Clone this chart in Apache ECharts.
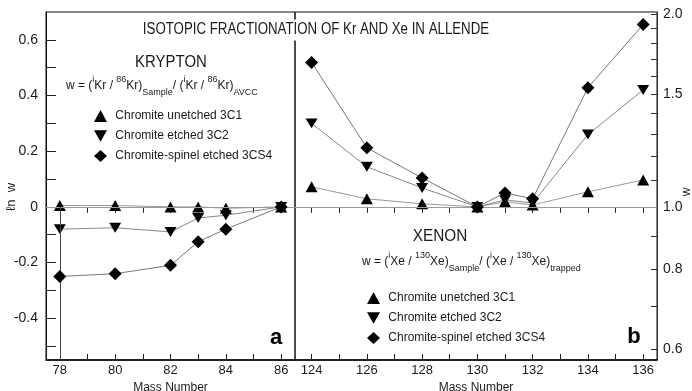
<!DOCTYPE html>
<html><head><meta charset="utf-8">
<script src="https://cdn.jsdelivr.net/npm/echarts@6/dist/echarts.min.js"></script>
<style>html,body{margin:0;padding:0;background:#fff}#c{width:692px;height:391px}</style>
</head><body><div id="c"></div><script>
const FONT = "'Liberation Sans', Arial, sans-serif";
// ---- data ----
const seriesNames = ['Chromite unetched 3C1', 'Chromite etched 3C2', 'Chromite-spinel etched 3CS4'];
const krMass = [78, 80, 82, 83, 84, 86];
const krUnetched = [0.005, 0.005, 0.0, 0.0, -0.005, 0];
const krEtched = [-0.08, -0.075, -0.09, -0.04, -0.03, 0];
const krSpinel = [-0.25, -0.24, -0.21, -0.125, -0.08, 0];
const xeMass = [124, 126, 128, 130, 131, 132, 134, 136];
const xeUnetched = [0.072, 0.029, 0.011, 0, 0.018, 0.007, 0.054, 0.097];
const xeEtched = [0.30, 0.144, 0.068, 0, 0.025, 0.014, 0.26, 0.42];
const xeSpinel = [0.519, 0.212, 0.104, 0, 0.05, 0.029, 0.428, 0.655];
const lnLabels = [-0.4, -0.2, 0, 0.2, 0.4, 0.6];
const lnTicks = [-0.5, -0.4, -0.3, -0.2, -0.1, 0, 0.1, 0.2, 0.3, 0.4, 0.5, 0.6];
const wLabels = [0.6, 0.8, 1.0, 1.5, 2.0];
const wTicks = [0.6, 0.7, 0.8, 0.9, 1.0, 1.1, 1.2, 1.3, 1.4, 1.5, 1.6, 1.7, 1.8, 1.9, 2.0];
const krTickLabels = [78, 80, 82, 84, 86];
const krTicks = [78, 79, 80, 81, 82, 83, 84, 85, 86];
const xeTickLabels = [124, 126, 128, 130, 132, 134, 136];
const xeTicks = [124, 125, 126, 127, 128, 129, 130, 131, 132, 133, 134, 135, 136];
// ---------------
const LNMIN = -0.55, LNMAX = 0.7;
const DOWN = 'path://M0,0L10,0L5,9Z';
const symbols = ['triangle', DOWN, 'diamond'];
const sizes = [[12, 11], [12, 11], [13, 13]];
const lineCols = ['#999', '#888', '#777'];
const ink = '#1a1a1a';

function mk(name, xs, ys, gi, k) {
  return {
    name, type: 'line', xAxisIndex: gi, yAxisIndex: gi,
    data: xs.map((x, i) => [x, ys[i]]),
    symbol: symbols[k], symbolSize: sizes[k], symbolKeepAspect: true,
    itemStyle: { color: '#000' },
    lineStyle: { color: lineCols[k], width: 1 },
    z: 3 + k, animation: false
  };
}
const series = [
  mk(seriesNames[0], krMass, krUnetched, 0, 0),
  mk(seriesNames[1], krMass, krEtched, 0, 1),
  mk(seriesNames[2], krMass, krSpinel, 0, 2),
  mk(seriesNames[0], xeMass, xeUnetched, 1, 0),
  mk(seriesNames[1], xeMass, xeEtched, 1, 1),
  mk(seriesNames[2], xeMass, xeSpinel, 1, 2)
];
series[0].markLine = { silent: true, symbol: 'none', animation: false, label: { show: false },
  lineStyle: { color: '#999', width: 1, type: 'solid' }, data: [{ yAxis: 0 }] };
series[2].markLine = { silent: true, symbol: 'none', animation: false, label: { show: false },
  lineStyle: { color: '#444', width: 1, type: 'solid' },
  data: [[{ coord: [krMass[0], 0] }, { coord: [krMass[0], LNMIN] }]] };
series[3].markLine = { silent: true, symbol: 'none', animation: false, label: { show: false },
  lineStyle: { color: '#999', width: 1, type: 'solid' }, data: [{ yAxis: 0 }] };

function xBottom(gi, min, max, ticks, labels) {
  return {
    type: 'value', gridIndex: gi, min, max, position: 'bottom',
    name: 'Mass Number', nameLocation: 'middle', nameGap: 20,
    nameTextStyle: { color: ink, fontFamily: FONT, fontSize: 12 },
    axisLine: { show: true, onZero: false, lineStyle: { color: '#000', width: 1.5 } },
    axisTick: { show: true, inside: true, length: 6, customValues: ticks, lineStyle: { color: '#222' } },
    axisLabel: { color: ink, fontFamily: FONT, fontSize: 13, margin: 4, customValues: labels, formatter: v => String(Math.round(v)) },
    splitLine: { show: false }
  };
}
function xTop(gi, min, max, ticks) {
  return {
    type: 'value', gridIndex: gi, min, max, position: 'top',
    axisLine: { show: false }, axisLabel: { show: false },
    axisTick: { show: true, inside: true, length: 6, customValues: ticks, lineStyle: { color: '#222' } },
    splitLine: { show: false }
  };
}
const rich = {
  m: { fontSize: 12, fontFamily: FONT, fill: ink, lineHeight: 22 },
  s: { fontSize: 9, fontFamily: FONT, fill: ink, lineHeight: 10, verticalAlign: 'top' },
  b: { fontSize: 9, fontFamily: FONT, fill: ink, lineHeight: 10, verticalAlign: 'bottom' }
};
const option = {
  backgroundColor: '#fff',
  animation: false,
  grid: [
    { left: 46, top: 12, width: 249, height: 348, outerBoundsMode: 'none', containLabel: false, show: true, borderColor: '#111', borderWidth: 1, backgroundColor: 'transparent' },
    { left: 295, top: 12, width: 362, height: 348, outerBoundsMode: 'none', containLabel: false, show: true, borderColor: '#111', borderWidth: 1, backgroundColor: 'transparent' }
  ],
  xAxis: [
    xBottom(0, 77.5, 86.5, krTicks, krTickLabels),
    xBottom(1, 123.4, 136.5, xeTicks, xeTickLabels),
    xTop(0, 77.5, 86.5, krTicks),
    xTop(1, 123.4, 136.5, xeTicks)
  ],
  yAxis: [
    { type: 'value', gridIndex: 0, min: LNMIN, max: LNMAX, position: 'left',
      axisLine: { show: true, lineStyle: { color: '#111' } },
      axisTick: { show: true, inside: true, length: 10, customValues: lnTicks, lineStyle: { color: '#222' } },
      axisLabel: { color: ink, fontFamily: FONT, fontSize: 14, margin: 8, customValues: lnLabels, formatter: v => Math.abs(v) < 1e-9 ? '0' : v.toFixed(1) },
      splitLine: { show: false } },
    { type: 'value', gridIndex: 1, min: LNMIN, max: LNMAX, position: 'right',
      axisLine: { show: true, lineStyle: { color: '#333' } },
      axisTick: { show: true, inside: true, length: 6, customValues: wTicks.map(Math.log), lineStyle: { color: '#333' } },
      axisLabel: { color: ink, fontFamily: FONT, fontSize: 14, margin: 6, customValues: wLabels.map(Math.log), formatter: v => Math.exp(v).toFixed(1) },
      splitLine: { show: false } }
  ],
  legend: [
    { left: 94, top: 110, orient: 'vertical', itemGap: 8, itemWidth: 13, itemHeight: 12, padding: 0,
      formatter: n => ' ' + n,
      textStyle: { color: ink, fontFamily: FONT, fontSize: 12 }, selectedMode: false,
      data: seriesNames.map((n, k) => ({ name: n, icon: symbols[k] })) },
    { left: 367, top: 292, orient: 'vertical', itemGap: 8, itemWidth: 13, itemHeight: 12, padding: 0,
      formatter: n => ' ' + n,
      textStyle: { color: ink, fontFamily: FONT, fontSize: 12 }, selectedMode: false,
      data: seriesNames.map((n, k) => ({ name: n, icon: symbols[k] })) }
  ],
  graphic: [
    { type: 'text', x: 316, y: 30, z: 100, scaleX: 0.83, style: { text: 'ISOTOPIC FRACTIONATION OF Kr AND Xe IN ALLENDE', fill: ink, font: '16px ' + FONT, align: 'center', verticalAlign: 'middle', backgroundColor: '#fff', padding: [1, 2, 4, 2] } },
    { type: 'text', x: 171, y: 62, scaleX: 0.88, style: { text: 'KRYPTON', fill: ink, font: '17px ' + FONT, align: 'center', verticalAlign: 'middle' } },
    { type: 'text', x: 440, y: 236, scaleX: 0.9, style: { text: 'XENON', fill: ink, font: '17px ' + FONT, align: 'center', verticalAlign: 'middle' } },
    { type: 'text', x: 66, y: 86, style: {
      text: '{m|w = (}{s|i}{m|Kr / }{s|86}{m|Kr)}{b|Sample}{m|/ (}{s|i}{m|Kr / }{s|86}{m|Kr)}{b|AVCC}',
      verticalAlign: 'middle', rich } },
    { type: 'text', x: 362, y: 262, style: {
      text: '{m|w = (}{s|i}{m|Xe / }{s|130}{m|Xe)}{b|Sample}{m|/ (}{s|i}{m|Xe / }{s|130}{m|Xe)}{b|trapped}',
      verticalAlign: 'middle', rich } },
    { type: 'text', x: 276, y: 338, style: { text: 'a', fill: '#000', font: 'bold 22px ' + FONT, align: 'center', verticalAlign: 'middle' } },
    { type: 'text', x: 634, y: 337, style: { text: 'b', fill: '#000', font: 'bold 22px ' + FONT, align: 'center', verticalAlign: 'middle' } },
    { type: 'text', x: 11, y: 197, rotation: Math.PI / 2, style: { text: 'ℓn  w', fill: ink, font: '13px ' + FONT, align: 'center', verticalAlign: 'middle' } },
    { type: 'text', x: 687, y: 192, rotation: Math.PI / 2, style: { text: 'w', fill: ink, font: '12px ' + FONT, align: 'center', verticalAlign: 'middle' } }
  ],
  series
};
const chart = echarts.init(document.getElementById('c'), null, { renderer: 'canvas' });
chart.setOption(option);
</script></body></html>
